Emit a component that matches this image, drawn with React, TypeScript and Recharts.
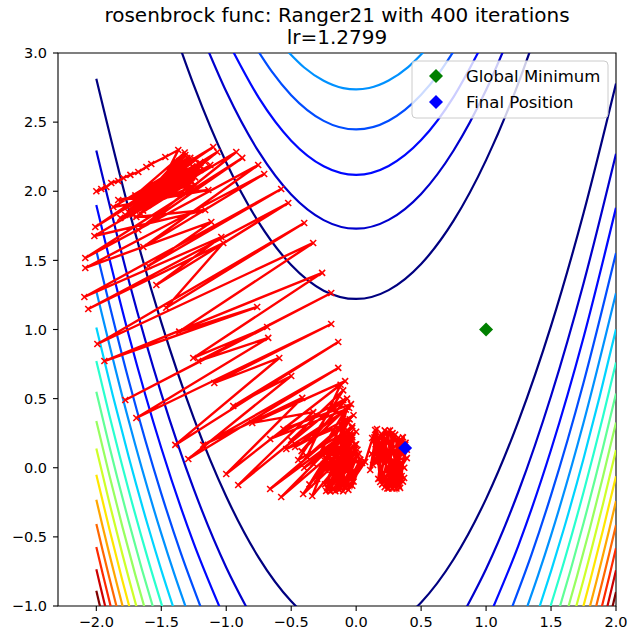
import React from 'react';
import { ScatterChart, Scatter, XAxis, YAxis, ReferenceArea } from 'recharts';

type Pt = [number, number];

const W = 635;
const H = 643;

const xDomain: Pt = [-2.295, 2];
const yDomain: Pt = [-1, 3];
const xTicks = [-2, -1.5, -1, -0.5, 0, 0.5, 1, 1.5, 2];
const yTicks = [-1, -0.5, 0, 0.5, 1, 1.5, 2, 2.5, 3];

// contour levels of the rosenbrock surface and their jet colours
const levels = [150, 300, 450, 600, 750, 900, 1050, 1200, 1350, 1500, 1650, 1800, 1950, 2100, 2250, 2400];
const levelColors = [
  '#000080', '#0000cd', '#0008ff', '#004dff', '#0091ff', '#00d4ff', '#29ffce', '#60ff97',
  '#97ff60', '#ceff29', '#ffe600', '#ffa700', '#ff6800', '#ff2900', '#cd0000', '#800000',
];

// lower branch of each level, left of the valley (runs off the bottom edge)
const leftBranches: Pt[][] = [
  [[-2, 2.813], [-1.75, 1.869], [-1.5, 1.051], [-1.25, 0.359], [-1, -0.208], [-0.75, -0.65], [-0.5, -0.966], [-0.45, -1.014]],
  [[-2, 2.294], [-1.75, 1.353], [-1.5, 0.536], [-1.25, -0.155], [-1, -0.721], [-0.84, -1.017]],
  [[-2, 1.9], [-1.75, 0.959], [-1.5, 0.143], [-1.25, -0.547], [-1.05, -1.01]],
  [[-2, 1.569], [-1.75, 0.629], [-1.5, -0.187], [-1.35, -0.616], [-1.19, -1.024]],
  [[-2, 1.278], [-1.75, 0.338], [-1.5, -0.477], [-1.4, -0.768], [-1.31, -1.013]],
  [[-2, 1.015], [-1.875, 0.53], [-1.75, 0.076], [-1.6, -0.429], [-1.5, -0.74], [-1.4, -1.031]],
  [[-2, 0.773], [-1.9, 0.382], [-1.75, -0.166], [-1.6, -0.67], [-1.49, -1.012]],
  [[-2, 0.549], [-1.9, 0.158], [-1.75, -0.39], [-1.65, -0.732], [-1.56, -1.02]],
  [[-2, 0.338], [-1.9, -0.053], [-1.8, -0.424], [-1.7, -0.775], [-1.63, -1.008]],
  [[-2, 0.139], [-1.9, -0.252], [-1.8, -0.623], [-1.75, -0.8], [-1.69, -1.008]],
  [[-2, -0.051], [-1.9, -0.442], [-1.8, -0.813], [-1.745, -1.008]],
  [[-2, -0.232], [-1.95, -0.43], [-1.9, -0.623], [-1.85, -0.81], [-1.795, -1.011]],
  [[-2, -0.406], [-1.95, -0.604], [-1.9, -0.796], [-1.84, -1.02]],
  [[-2, -0.573], [-1.95, -0.77], [-1.885, -1.02]],
  [[-2, -0.734], [-1.97, -0.853], [-1.93, -1.009]],
  [[-2, -0.89], [-1.97, -1.009]],
];

// lower branch of each level, right of the valley
const rightBranches: Pt[][] = [
  [[0.45, -1.021], [0.5, -0.974], [0.75, -0.662], [1, -0.225], [1.25, 0.339], [1.5, 1.026], [1.75, 1.841], [2, 2.779]],
  [[0.84, -1.026], [1, -0.732], [1.25, -0.17], [1.5, 0.519], [1.75, 1.333], [2, 2.271]],
  [[1.05, -1.019], [1.25, -0.559], [1.5, 0.13], [1.75, 0.942], [2, 1.881]],
  [[1.19, -1.033], [1.35, -0.627], [1.5, -0.198], [1.75, 0.615], [2, 1.553]],
  [[1.31, -1.023], [1.4, -0.779], [1.5, -0.489], [1.75, 0.325], [2, 1.263]],
  [[1.41, -1.01], [1.5, -0.748], [1.6, -0.438], [1.75, 0.065], [1.875, 0.518], [2, 1.002]],
  [[1.49, -1.02], [1.6, -0.68], [1.75, -0.177], [1.9, 0.37], [2, 0.761]],
  [[1.56, -1.03], [1.65, -0.741], [1.75, -0.401], [1.9, 0.146], [2, 0.537]],
  [[1.63, -1.017], [1.7, -0.784], [1.8, -0.434], [1.9, -0.064], [2, 0.327]],
  [[1.69, -1.016], [1.75, -0.81], [1.8, -0.632], [1.9, -0.262], [2, 0.128]],
  [[1.745, -1.016], [1.8, -0.821], [1.9, -0.451], [2, -0.061]],
  [[1.795, -1.019], [1.85, -0.819], [1.9, -0.631], [1.95, -0.439], [2, -0.241]],
  [[1.84, -1.029], [1.9, -0.805], [1.95, -0.613], [2, -0.415]],
  [[1.885, -1.028], [1.95, -0.779], [2, -0.581]],
  [[1.93, -1.017], [1.97, -0.861], [2, -0.742]],
  [[1.97, -1.017], [2, -0.898]],
];

// upper branches (the U shapes) of the five lowest levels
const upperBranches: Pt[][] = [
  [[-1.35, 3.025], [-1.25, 2.767], [-1, 2.208], [-0.75, 1.775], [-0.5, 1.466], [-0.25, 1.281], [0, 1.221], [0.25, 1.285], [0.5, 1.474], [0.75, 1.787], [1, 2.225], [1.25, 2.786], [1.35, 3.046]],
  [[-1.14, 3.02], [-1, 2.721], [-0.75, 2.286], [-0.5, 1.976], [-0.25, 1.791], [0, 1.729], [0.25, 1.793], [0.5, 1.981], [0.75, 2.295], [1, 2.732], [1.14, 3.032]],
  [[-0.95, 3.016], [-0.75, 2.677], [-0.5, 2.366], [-0.25, 2.181], [0, 2.119], [0.25, 2.183], [0.5, 2.37], [0.75, 2.683], [0.95, 3.024]],
  [[-0.76, 3.022], [-0.65, 2.867], [-0.5, 2.695], [-0.25, 2.509], [0, 2.447], [0.25, 2.51], [0.5, 2.698], [0.65, 2.871], [0.76, 3.027]],
  [[-0.53, 3.015], [-0.4, 2.895], [-0.25, 2.799], [-0.1, 2.746], [0, 2.737], [0.1, 2.747], [0.25, 2.801], [0.4, 2.898], [0.53, 3.019]],
];

// optimizer iterates, in order
const path: Pt[] = [
  // first steps from the start point
  [-2, 2], [-1.962, 2.016], [-1.923, 2.031], [-1.885, 2.06], [-1.831, 2.074], [-1.792, 2.096],
  [-1.738, 2.118], [-1.677, 2.139], [-1.615, 2.175], [-1.577, 2.197], [-1.469, 2.248], [-1.369, 2.298],
  // tight oscillation near the start
  [-1.508, 2.043], [-1.392, 2.19], [-1.546, 1.973], [-1.431, 2.154], [-1.6, 1.901], [-1.338, 2.226],
  [-1.7, 1.86], [-1.3, 2.12], [-1.66, 1.9], [-1.26, 2.18], [-1.72, 1.83], [-1.34, 2.1],
  [-1.62, 1.95], [-1.22, 2.16], [-1.68, 1.88], [-1.28, 2.2], [-1.74, 1.84], [-1.33, 2.06],
  [-1.6, 1.98], [-1.25, 2.13], [-1.71, 1.9], [-1.36, 2.22], [-1.64, 1.86], [-1.24, 2.1],
  [-1.69, 1.95], [-1.3, 2.24], [-1.58, 2.0], [-1.2, 2.18], [-1.73, 1.88], [-1.35, 2.15],
  [-1.66, 1.84], [-1.27, 2.07], [-1.62, 1.92], [-1.21, 2.2], [-1.7, 1.97], [-1.32, 2.28],
  [-1.585, 2.009], [-1.315, 2.262], [-1.662, 1.937], [-1.277, 2.241], [-1.7, 1.901], [-1.354, 2.19],
  [-1.623, 1.973], [-1.238, 2.226], [-1.738, 1.864], [-1.292, 2.154], [-1.646, 1.937], [-1.2, 2.204],
  [-1.754, 1.85], [-1.315, 2.118], [-1.585, 1.951], [-1.162, 2.212], [-1.777, 1.828], [-1.277, 2.096],
  [-1.677, 1.879], [-1.2, 2.154], [-1.723, 1.843], [-1.262, 2.067], [-1.623, 1.901], [-1.123, 2.19],
  [-1.815, 1.807], [-1.238, 2.045], [-1.831, 1.937], [-1.138, 2.009], [-1.869, 1.886],
  // wide zigzag down the valley wall
  [-1.1, 2.32], [-2.008, 1.741], [-1.069, 2.284], [-1.692, 1.814], [-1.162, 1.864], [-2.015, 1.676],
  [-0.923, 2.284], [-1.677, 1.72], [-0.877, 2.241], [-2.085, 1.517], [-0.754, 2.19], [-1.638, 1.597],
  [-0.708, 2.125], [-2.085, 1.445], [-1.115, 1.778], [-1.6, 1.459], [-0.577, 2.016], [-2.092, 1.235],
  [-1.038, 1.669], [-1.538, 1.322], [-0.523, 1.915], [-2.062, 1.148], [-1.023, 1.626], [-1.462, 1.157],
  [-0.4, 1.77], [-1.992, 0.895], [-0.331, 1.626], [-1.362, 0.985], [-0.762, 1.163], [-1.938, 0.772],
  [-0.262, 1.41], [-1.254, 0.794], [-0.685, 1.018], [-1.777, 0.49], [-0.192, 1.264], [-1.215, 0.772],
  [-0.677, 0.939], [-1.692, 0.36], [-0.192, 1.04], [-1.092, 0.613], [-0.592, 0.794], [-1.392, 0.165],
  [-0.138, 0.91], [-0.946, 0.447], [-0.5, 0.664], [-1.292, 0.063], [-0.138, 0.722], [-1.177, 0.165],
  [-0.415, 0.505], [-1.0, -0.045], [-0.085, 0.627], [-0.8, 0.324], [-0.331, 0.403], [-0.908, -0.125],
  [-0.1, 0.49], [-0.662, 0.208], [-0.054, 0.432], [-0.538, 0.136], [-0.062, 0.324], [-0.662, -0.154],
  [-0.031, 0.288], [-0.446, 0.056],
  // narrower zigzag near the valley floor
  [-0.1, 0.56], [-0.5, 0.2], [-0.07, 0.5], [-0.42, 0.12], [-0.04, 0.46], [-0.56, 0.28],
  [-0.12, 0.6], [-0.38, 0.08], [-0.02, 0.38], [-0.47, 0.15], [-0.08, 0.42], [-0.33, 0.03],
  [-0.03, 0.3], [-0.4, 0.0], [0.0, 0.26], [-0.3, -0.08], [-0.05, 0.35], [-0.36, -0.12],
  [-0.046, 0.215], [-0.577, -0.212], [-0.069, 0.273], [-0.408, -0.19],
  [-0.008, 0.165], [-0.338, -0.204], [-0.069, 0.439], [-0.231, -0.168], [-0.031, 0.2], [-0.2, -0.168],
  [-0.046, 0.25], [-0.123, -0.139],
  // settling on the floor, left lobe
  [-0.254, 0.092], [-0.046, 0.179], [-0.223, -0.146], [-0.015, 0.128], [-0.177, -0.161], [0.008, 0.092],
  [-0.085, -0.146], [0.031, 0.056], [-0.238, -0.016], [-0.031, 0.15], [-0.138, -0.154], [0.046, 0.034],
  [-0.2, -0.17], [-0.06, 0.26], [-0.16, -0.17], [-0.03, 0.22], [-0.24, -0.12], [-0.08, 0.2],
  [-0.1, -0.17], [0.0, 0.17], [-0.22, 0.0], [-0.05, 0.24], [-0.13, -0.16], [0.02, 0.1],
  [-0.25, 0.06], [-0.07, 0.15], [-0.06, -0.16], [0.03, 0.06], [-0.19, -0.05], [-0.04, 0.2],
  [-0.15, -0.1], [0.01, 0.13], [-0.21, -0.16], [-0.09, 0.25], [-0.03, -0.13], [0.04, 0.04],
  [-0.12, 0.05], [-0.02, -0.1], [-0.046, -0.118], [0.069, 0.042],
  // right lobe
  [0.146, 0.273], [0.185, -0.103], [0.246, 0.259], [0.277, -0.146], [0.323, 0.215], [0.338, -0.146],
  [0.377, 0.165], [0.231, -0.118], [0.123, 0.215], [0.308, -0.132], [0.185, 0.23], [0.108, -0.016],
  [0.16, 0.28], [0.2, -0.12], [0.28, 0.25], [0.25, -0.15], [0.35, 0.2], [0.31, -0.15],
  [0.14, 0.22], [0.36, -0.1], [0.22, 0.27], [0.17, -0.08], [0.39, 0.13], [0.28, -0.15],
  [0.12, 0.1], [0.37, 0.0], [0.2, 0.24], [0.33, -0.13], [0.26, 0.27], [0.13, 0.02],
  [0.38, 0.18], [0.22, -0.14], [0.3, 0.24], [0.35, -0.06], [0.15, 0.17], [0.29, -0.1],
  [0.36, 0.22], [0.2, 0.05], [0.39, 0.07], [0.24, -0.15], [0.33, 0.18],
  [0.354, 0.186], [0.262, -0.074], [0.169, 0.201], [0.369, -0.074], [0.215, 0.092], [0.377, 0.143],
];

const globalMinimum: Pt = [1, 1];
const finalPosition: Pt = path[path.length - 1];

const toRows = (pts: Pt[]) => pts.map(([x, y]) => ({ x, y }));
const fmt = (v: number) => v.toFixed(1).replace('-', '\u2212');

const FONT = 'DejaVu Sans, sans-serif';
const tickStyle = { fill: '#000', fontSize: 14.5, fontFamily: FONT };

const NoDot = () => <g />;

const XMark = (props: any) => {
  const { cx, cy } = props;
  const r = 3;
  return (
    <path
      d={`M${cx - r},${cy - r}L${cx + r},${cy + r}M${cx - r},${cy + r}L${cx + r},${cy - r}`}
      stroke="#ff0000"
      strokeWidth={1.6}
    />
  );
};

const diamond = (color: string) => (props: any) => {
  const { cx, cy } = props;
  const r = 7;
  return <polygon points={`${cx},${cy - r} ${cx + r},${cy} ${cx},${cy + r} ${cx - r},${cy}`} fill={color} />;
};

function LegendBox() {
  return (
    <g fontFamily={FONT}>
      <rect x={412} y={61} width={196} height={57} rx={4} fill="#fff" fillOpacity={0.8} stroke="#cccccc" />
      <polygon points="436,69 443,76 436,83 429,76" fill="#008000" />
      <text x={466} y={82} fontSize={16.5} fill="#000">Global Minimum</text>
      <polygon points="436,95 443,102 436,109 429,102" fill="#0000ff" />
      <text x={466} y={108} fontSize={16.5} fill="#000">Final Position</text>
    </g>
  );
}

export default function App() {
  return (
    <div style={{ position: 'absolute', left: 0, top: 0, width: W, height: H, background: '#fff' }}>
      <ScatterChart width={W} height={H} margin={{ top: 53, right: 19, bottom: 0, left: 0 }}>
        <XAxis
          type="number"
          dataKey="x"
          domain={xDomain}
          ticks={xTicks}
          interval={0}
          allowDataOverflow
          height={37}
          axisLine={false}
          tickLine={{ stroke: '#000', strokeWidth: 1.1 }}
          tickSize={5}
          tickMargin={6}
          tick={tickStyle}
          tickFormatter={fmt}
        />
        <YAxis
          type="number"
          dataKey="y"
          domain={yDomain}
          ticks={yTicks}
          interval={0}
          allowDataOverflow
          width={58}
          axisLine={false}
          tickLine={{ stroke: '#000', strokeWidth: 1.1 }}
          tickSize={5}
          tickMargin={6}
          tick={tickStyle}
          tickFormatter={fmt}
        />
        {levels.map((lv, i) => (
          <Scatter
            key={`l${lv}`}
            data={toRows(leftBranches[i])}
            line={{ stroke: levelColors[i], strokeWidth: 2.2 }}
            lineJointType="monotoneX"
            shape={NoDot}
            isAnimationActive={false}
          />
        ))}
        {levels.map((lv, i) => (
          <Scatter
            key={`r${lv}`}
            data={toRows(rightBranches[i])}
            line={{ stroke: levelColors[i], strokeWidth: 2.2 }}
            lineJointType="monotoneX"
            shape={NoDot}
            isAnimationActive={false}
          />
        ))}
        {upperBranches.map((pts, i) => (
          <Scatter
            key={`u${levels[i]}`}
            data={toRows(pts)}
            line={{ stroke: levelColors[i], strokeWidth: 2.2 }}
            lineJointType="monotoneX"
            shape={NoDot}
            isAnimationActive={false}
          />
        ))}
        <Scatter
          data={toRows(path)}
          line={{ stroke: '#ff0000', strokeWidth: 2.4 }}
          lineJointType="linear"
          shape={XMark}
          isAnimationActive={false}
        />
        <Scatter data={toRows([globalMinimum])} shape={diamond('#008000')} isAnimationActive={false} />
        <Scatter data={toRows([finalPosition])} shape={diamond('#0000ff')} isAnimationActive={false} />
        <ReferenceArea
          x1={xDomain[0]}
          x2={xDomain[1]}
          y1={yDomain[0]}
          y2={yDomain[1]}
          fill="none"
          stroke="#000"
          strokeWidth={1.1}
          ifOverflow="visible"
        />
      </ScatterChart>
      <svg width={W} height={H} style={{ position: 'absolute', left: 0, top: 0, pointerEvents: 'none' }}>
        <text x={337} y={22} textAnchor="middle" fontFamily={FONT} fontSize={20} fill="#000">
          rosenbrock func: Ranger21 with 400 iterations
        </text>
        <text x={337} y={44} textAnchor="middle" fontFamily={FONT} fontSize={20} fill="#000">
          lr=1.2799
        </text>
        <LegendBox />
      </svg>
    </div>
  );
}
